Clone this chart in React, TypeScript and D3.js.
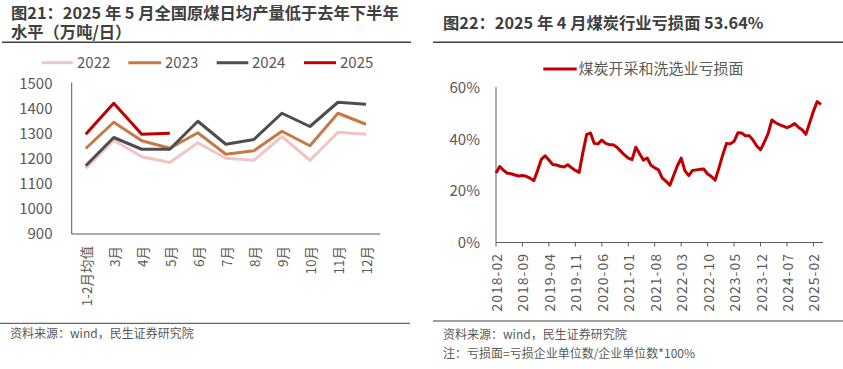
import React from "react";
import * as d3 from "d3";

// ---------- Left chart data ----------
const leftCategories = ["1-2月均值", "3月", "4月", "5月", "6月", "7月", "8月", "9月", "10月", "11月", "12月"];
const leftYears = ["2022", "2023", "2024", "2025"];
const v2022 = [1161, 1273, 1207, 1184, 1263, 1201, 1193, 1288, 1193, 1305, 1297];
const v2023 = [1240, 1345, 1271, 1241, 1303, 1217, 1231, 1309, 1251, 1381, 1337];
const v2024 = [1171, 1284, 1237, 1237, 1349, 1257, 1276, 1381, 1328, 1425, 1417];
const v2025 = [1297, 1421, 1297, 1301];
const leftTicks = [900, 1000, 1100, 1200, 1300, 1400, 1500];
const leftColors = ["#f2c5c5", "#c47a45", "#4d4d4d", "#c00000"];

// ---------- Right chart data ----------
const rightStart = "2018-02";
const rightSeriesName = "煤炭开采和洗选业亏损面";
const lossRatio = [
  27.0, 29.5, 28.0, 26.9, 26.7, 26.2, 25.8, 26.0, 25.7, 25.0,
  24.0, 28.0, 32.3, 33.7, 32.0, 30.3, 30.1, 29.6, 29.3, 30.2,
  29.0, 28.0, 27.2, 35.0, 42.0, 42.5, 38.5, 38.3, 39.8, 38.5,
  38.0, 38.0, 37.0, 35.5, 34.0, 32.8, 32.2, 37.0, 34.5, 32.0,
  32.8, 30.0, 29.0, 28.2, 25.0, 23.8, 22.2, 26.0, 29.8, 32.8,
  27.8, 26.0, 28.0, 28.2, 28.4, 28.5, 26.6, 25.6, 24.2, 29.0,
  34.0, 38.5, 38.3, 39.3, 42.6, 42.5, 41.5, 41.5, 39.8, 37.5,
  36.0, 39.0, 42.3, 47.6, 46.5, 45.8, 45.2, 44.6, 45.2, 46.2,
  44.8, 43.8, 42.0, 46.5, 51.0, 54.7, 53.64,
];
const rightTicks = [0, 20, 40, 60];
const rightTickEvery = 7;

const FONT = "'Noto Sans CJK SC', 'Noto Sans', sans-serif";
const GRAY = "#595959";
const DARK = "#404040";

export default function App() {
  // left scales
  const lx = d3.scaleBand<string>().domain(leftCategories).range([71.7, 380]).padding(0);
  const ly = d3.scaleLinear().domain([900, 1500]).range([233.5, 83.5]);
  const leftSeries = [v2022, v2023, v2024, v2025];
  const lline = d3
    .line<number>()
    .x((_, i) => (lx(leftCategories[i]) as number) + lx.bandwidth() / 2)
    .y((d) => ly(d));

  // right scales
  const parse = d3.timeParse("%Y-%m");
  const start = parse(rightStart) as Date;
  const months = lossRatio.map((_, i) => d3.timeMonth.offset(start, i));
  const fmt = d3.timeFormat("%Y-%m");
  const rx = d3.scaleLinear().domain([0, lossRatio.length - 1]).range([496, 821]);
  const ry = d3.scaleLinear().domain([0, 60]).range([242.5, 88]);
  const rline = d3
    .line<number>()
    .x((_, i) => rx(i))
    .y((d) => ry(d))
    .curve(d3.curveLinear);
  const rTickIdx = d3.range(0, lossRatio.length, rightTickEvery);

  const legendPos = [
    { x1: 41.7, x2: 72.7, tx: 77 },
    { x1: 128.3, x2: 161, tx: 165 },
    { x1: 216.7, x2: 248.3, tx: 252 },
    { x1: 304, x2: 336, tx: 340 },
  ];

  return (
    <svg
      width={843}
      height={369}
      style={{ position: "absolute", left: 0, top: 0, background: "#fff" }}
      fontFamily={FONT}
    >
      <rect width={843} height={369} fill="#fff" />
      {/* ---------- Left chart ---------- */}
      <text fontSize={16.3} fontWeight="bold" fill={DARK}>
        <tspan x={11} y={18.5}>图21：2025 年 5 月全国原煤日均产量低于去年下半年</tspan>
        <tspan x={11} y={37.5}>水平（万吨/日）</tspan>
      </text>
      <line x1={2} x2={411} y1={42.3} y2={42.3} stroke={DARK} strokeWidth={1.5} />

      {/* legend */}
      {leftYears.map((y, i) => (
        <g key={y}>
          <line
            x1={legendPos[i].x1}
            x2={legendPos[i].x2}
            y1={62.7}
            y2={62.7}
            stroke={leftColors[i]}
            strokeWidth={3}
          />
          <text x={legendPos[i].tx} y={62.7} dy="0.36em" fontSize={15} fill={GRAY}>
            {y}
          </text>
        </g>
      ))}

      {/* y axis labels */}
      {leftTicks.map((t) => (
        <text key={t} x={52.5} y={ly(t)} dy="0.36em" textAnchor="end" fontSize={15} fill={GRAY}>
          {t}
        </text>
      ))}
      <line x1={71.7} x2={71.7} y1={82.5} y2={234} stroke={GRAY} strokeWidth={1} />
      <line x1={71.7} x2={380} y1={234} y2={234} stroke={GRAY} strokeWidth={1} />

      {/* x labels */}
      {leftCategories.map((c) => {
        const cx = (lx(c) as number) + lx.bandwidth() / 2;
        return (
          <text
            key={c}
            transform={`translate(${cx},246) rotate(-90)`}
            textAnchor="end"
            dominantBaseline="central"
            fontSize={13.5}
            fill={GRAY}
          >
            {c}
          </text>
        );
      })}

      {/* lines */}
      {leftSeries.map((s, i) => (
        <path
          key={leftYears[i]}
          d={lline(s) as string}
          fill="none"
          stroke={leftColors[i]}
          strokeWidth={3}
          strokeLinejoin="round"
        />
      ))}

      <line x1={0} x2={410} y1={323.3} y2={323.3} stroke={DARK} strokeWidth={1} />
      <text x={10} y={334} dy="0.36em" fontSize={12} fill={GRAY}>
        资料来源：wind，民生证券研究院
      </text>

      {/* ---------- Right chart ---------- */}
      <text x={443} y={29} fontSize={16.3} fontWeight="bold" fill={DARK}>
        图22：2025 年 4 月煤炭行业亏损面 53.64%
      </text>
      <line x1={433} x2={843} y1={42.3} y2={42.3} stroke={DARK} strokeWidth={1.5} />

      <line x1={543.3} x2={576.7} y1={69} y2={69} stroke="#c00000" strokeWidth={3} />
      <text x={578.5} y={69} dy="0.36em" fontSize={15} fill={GRAY}>
        {rightSeriesName}
      </text>

      {rightTicks.map((t) => (
        <text key={t} x={480} y={ry(t)} dy="0.36em" textAnchor="end" fontSize={15} fill={GRAY}>
          {t}%
        </text>
      ))}
      <line x1={496} x2={496} y1={87} y2={242.5} stroke={GRAY} strokeWidth={1} />
      <line x1={496} x2={823} y1={242.5} y2={242.5} stroke={GRAY} strokeWidth={1} />
      {rTickIdx.map((i) => (
        <g key={i}>
          <line x1={rx(i)} x2={rx(i)} y1={242.5} y2={246.5} stroke={GRAY} strokeWidth={1} />
          <text
            transform={`translate(${rx(i)},253) rotate(-90)`}
            textAnchor="end"
            dominantBaseline="central"
            fontSize={14}
            letterSpacing={1}
            fill={GRAY}
          >
            {fmt(months[i])}
          </text>
        </g>
      ))}

      <path
        d={rline(lossRatio) as string}
        fill="none"
        stroke="#c00000"
        strokeWidth={3}
        strokeLinejoin="round"
      />

      <line x1={433} x2={843} y1={321} y2={321} stroke={DARK} strokeWidth={1} />
      <text x={443} y={334.3} dy="0.36em" fontSize={12} fill={GRAY}>
        资料来源：wind，民生证券研究院
      </text>
      <text x={443} y={353.3} dy="0.36em" fontSize={12} fill={GRAY}>
        注：亏损面=亏损企业单位数/企业单位数*100%
      </text>
    </svg>
  );
}
